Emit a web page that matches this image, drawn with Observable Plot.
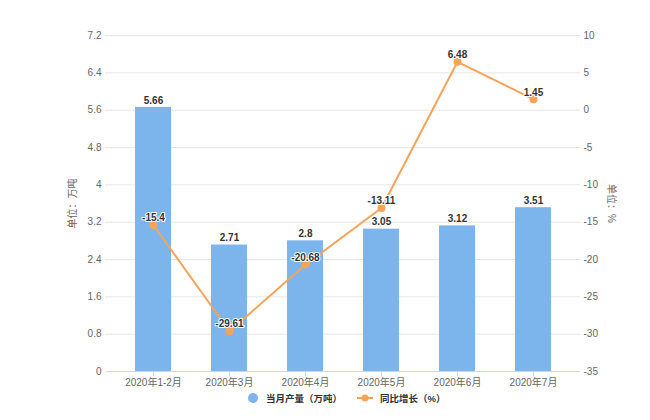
<!DOCTYPE html>
<html>
<head>
<meta charset="utf-8">
<script src="https://cdn.jsdelivr.net/npm/d3@7"></script>
<script src="https://cdn.jsdelivr.net/npm/@observablehq/plot@0.6"></script>
<style>
  body { margin: 0; background: #fff; }
  #chart { width: 650px; }
  #legend { display: flex; align-items: center; height: 16px; padding-left: 248px; font: bold 9.5px 'Liberation Sans', Arial, 'Noto Sans CJK SC', sans-serif; color: #333; }
  .sw-dot { width: 10px; height: 10px; border-radius: 50%; background: #7cb5ec; margin-right: 8px; }
  .item { display: flex; align-items: center; margin-right: 14px; }
</style>
</head>
<body>
<div id="chart"></div>
<div id="legend">
  <div class="item"><div class="sw-dot"></div><span>当月产量（万吨）</span></div>
  <div class="item"><svg width="18" height="10" style="margin-right:6px"><line x1="1" y1="5" x2="17" y2="5" stroke="#f7a35c" stroke-width="2"/><circle cx="9" cy="5" r="3.5" fill="#f7a35c"/></svg><span>同比增长（%）</span></div>
</div>
<script>
const categories = ["2020年1-2月", "2020年3月", "2020年4月", "2020年5月", "2020年6月", "2020年7月"];
const output = [5.66, 2.71, 2.8, 3.05, 3.12, 3.51];
const growth = [-15.4, -29.61, -20.68, -13.11, 6.48, 1.45];
const leftTicks = [0, 0.8, 1.6, 2.4, 3.2, 4, 4.8, 5.6, 6.4, 7.2];
const rightTicks = [-35, -30, -25, -20, -15, -10, -5, 0, 5, 10];

const rows = categories.map((c, i) => ({cat: c, output: output[i], growth: growth[i]}));
const toLeft = d3.scaleLinear([-35, 10], [0, 7.2]);

const chart = Plot.plot({
  width: 650,
  height: 390,
  marginTop: 35,
  marginBottom: 19,
  marginLeft: 113,
  marginRight: 76,
  style: {fontFamily: "'Liberation Sans', Arial, 'Noto Sans CJK SC', sans-serif", fontSize: "10px", color: "#666", background: "#fff"},
  x: {domain: categories, paddingInner: 0.52, paddingOuter: 0.26, label: null},
  y: {domain: [0, 7.2], label: null},
  marks: [
    Plot.ruleY(leftTicks, {stroke: "#e6e6e6", insetLeft: -8, insetRight: -6}),
    Plot.axisY(leftTicks, {anchor: "left", tickSize: 0, tickPadding: 12, tickFormat: d => String(d), fill: "#666", label: null}),
    Plot.axisY(rightTicks.map(v => toLeft(v)), {anchor: "right", tickSize: 0, tickPadding: 9, tickFormat: (d, i) => String(rightTicks[i]), fill: "#666", label: null}),
    Plot.text(["单位：万吨"], {frameAnchor: "left", textAnchor: "middle", dx: -41, rotate: -90, fill: "#666", fontSize: 10}),
    Plot.text(["单位：%"], {frameAnchor: "right", textAnchor: "middle", dx: 37, rotate: 90, fill: "#666", fontSize: 10}),
    Plot.barY(rows, {x: "cat", y: "output", fill: "#7cb5ec"}),
    Plot.ruleY([0], {stroke: "#ccd6eb", insetLeft: -6, insetRight: -6}),
    Plot.axisX(categories, {anchor: "bottom", tickSize: 5, tickPadding: 2, stroke: "#ccd6eb", fill: "#666", label: null}),
    Plot.line(rows, {x: "cat", y: d => toLeft(d.growth), stroke: "#f7a35c", strokeWidth: 2}),
    Plot.dot(rows, {x: "cat", y: d => toLeft(d.growth), r: 4, fill: "#f7a35c"}),
    Plot.text(rows, {x: "cat", y: "output", text: d => String(d.output), dy: -7, fontWeight: "bold", fill: "#333", stroke: "white", strokeWidth: 2, fontSize: 10}),
    Plot.text(rows, {x: "cat", y: d => toLeft(d.growth), text: d => String(d.growth), dy: -7, fontWeight: "bold", fill: "#333", stroke: "white", strokeWidth: 2, fontSize: 10})
  ]
});
document.getElementById("chart").appendChild(chart);
</script>
</body>
</html>
